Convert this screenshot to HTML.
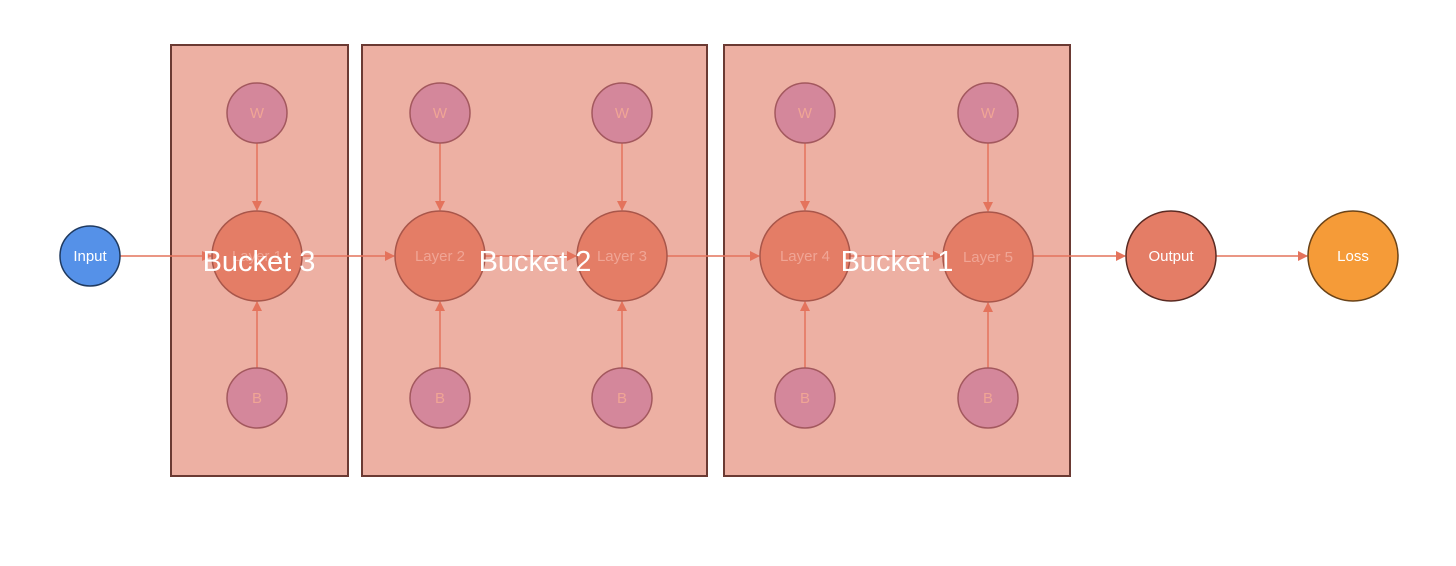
<!DOCTYPE html>
<html><head><meta charset="utf-8"><style>html,body{margin:0;padding:0;background:#fff}svg{display:block}</style></head>
<body>
<svg width="1456" height="566" viewBox="0 0 1456 566" xmlns="http://www.w3.org/2000/svg" font-family="Liberation Sans, sans-serif">
<defs>
<marker id="a" markerWidth="10" markerHeight="10" refX="9" refY="5" orient="auto" markerUnits="userSpaceOnUse"><path d="M0,0 L10,5 L0,10 Z" fill="#e4735c"/></marker>
</defs>
<g fill="#edb0a3" stroke="#6b3a33" stroke-width="2">
<rect x="171" y="45" width="177" height="431"/>
<rect x="362" y="45" width="345" height="431"/>
<rect x="724" y="45" width="346" height="431"/>
</g>
<g stroke="#e4735c" stroke-width="1.5" fill="none" marker-end="url(#a)">
<line x1="120" y1="256" x2="211" y2="256"/>
<line x1="302" y1="256" x2="394" y2="256"/>
<line x1="485" y1="256" x2="576" y2="256"/>
<line x1="667" y1="256" x2="759" y2="256"/>
<line x1="850" y1="256" x2="942" y2="256"/>
<line x1="1033" y1="256" x2="1125" y2="256"/>
<line x1="1216" y1="256" x2="1307" y2="256"/>
<line x1="257" y1="143" x2="257" y2="210"/><line x1="257" y1="368" x2="257" y2="302"/>
<line x1="440" y1="143" x2="440" y2="210"/><line x1="440" y1="368" x2="440" y2="302"/>
<line x1="622" y1="143" x2="622" y2="210"/><line x1="622" y1="368" x2="622" y2="302"/>
<line x1="805" y1="143" x2="805" y2="210"/><line x1="805" y1="368" x2="805" y2="302"/>
<line x1="988" y1="143" x2="988" y2="211"/><line x1="988" y1="368" x2="988" y2="303"/>
</g>
<g fill="#d4879b" stroke="#a3585e" stroke-width="1.5">
<circle cx="257" cy="113" r="30"/><circle cx="440" cy="113" r="30"/><circle cx="622" cy="113" r="30"/><circle cx="805" cy="113" r="30"/><circle cx="988" cy="113" r="30"/>
<circle cx="257" cy="398" r="30"/><circle cx="440" cy="398" r="30"/><circle cx="622" cy="398" r="30"/><circle cx="805" cy="398" r="30"/><circle cx="988" cy="398" r="30"/>
</g>
<g fill="#e47d66" stroke="#a8564a" stroke-width="1.5">
<circle cx="257" cy="256" r="45"/><circle cx="440" cy="256" r="45"/><circle cx="622" cy="256" r="45"/><circle cx="805" cy="256" r="45"/><circle cx="988" cy="257" r="45"/>
</g>
<circle cx="90" cy="256" r="30" fill="#5591e8" stroke="#1f3a60" stroke-width="1.5"/>
<circle cx="1171" cy="256" r="45" fill="#e47d66" stroke="#5a2a22" stroke-width="1.5"/>
<circle cx="1353" cy="256" r="45" fill="#f59b38" stroke="#6a4318" stroke-width="1.5"/>
<g fill="#f0a595" font-size="15" text-anchor="middle">
<text x="257" y="118">W</text><text x="440" y="118">W</text><text x="622" y="118">W</text><text x="805" y="118">W</text><text x="988" y="118">W</text>
<text x="257" y="403">B</text><text x="440" y="403">B</text><text x="622" y="403">B</text><text x="805" y="403">B</text><text x="988" y="403">B</text>
<text x="257" y="261">Layer 1</text><text x="440" y="261">Layer 2</text><text x="622" y="261">Layer 3</text><text x="805" y="261">Layer 4</text><text x="988" y="262">Layer 5</text>
</g>
<g fill="#fff" font-size="15" text-anchor="middle">
<text x="90" y="261">Input</text><text x="1171" y="261">Output</text><text x="1353" y="261">Loss</text>
</g>
<g fill="#fff" font-size="29" text-anchor="middle">
<text x="259" y="271">Bucket 3</text><text x="535" y="271">Bucket 2</text><text x="897" y="271">Bucket 1</text>
</g>
</svg>
</body></html>
